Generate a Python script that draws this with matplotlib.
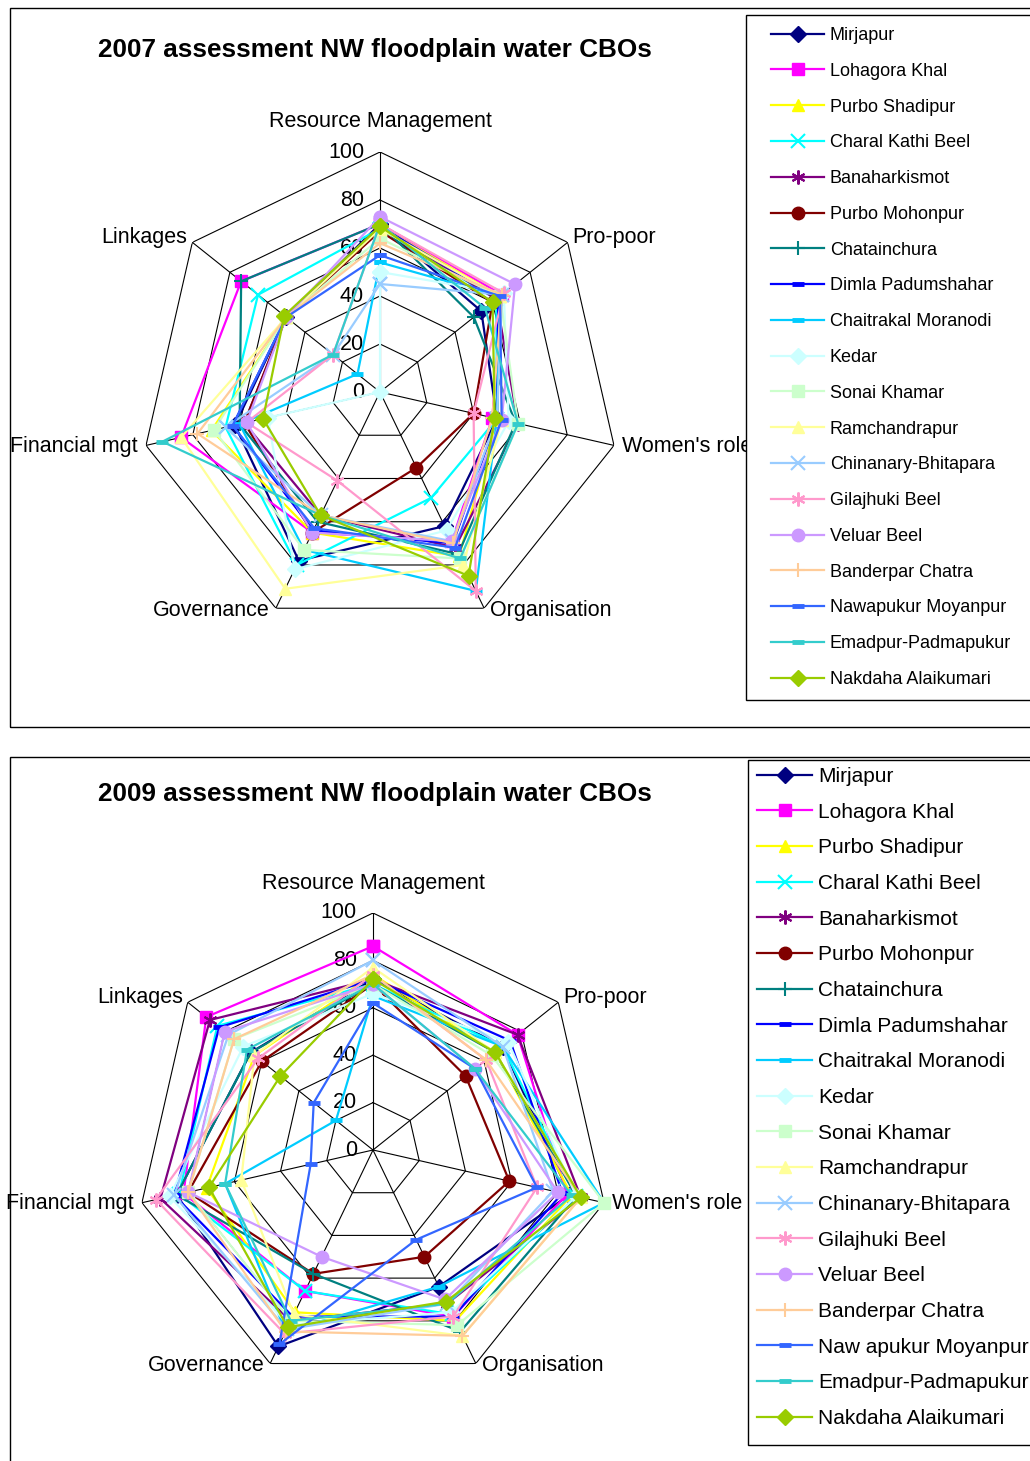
import numpy as np
import matplotlib.pyplot as plt
import matplotlib.transforms as mtransforms
from matplotlib.patches import Rectangle

plt.rcParams['font.family'] = ['Liberation Sans', 'DejaVu Sans']

criteria = ['Resource Management', 'Pro-poor', "Women's role", 'Organisation',
            'Governance', 'Financial mgt', 'Linkages']
sites = ['Mirjapur', 'Lohagora Khal', 'Purbo Shadipur', 'Charal Kathi Beel',
         'Banaharkismot', 'Purbo Mohonpur', 'Chatainchura', 'Dimla Padumshahar',
         'Chaitrakal Moranodi', 'Kedar', 'Sonai Khamar', 'Ramchandrapur',
         'Chinanary-Bhitapara', 'Gilajhuki Beel', 'Veluar Beel', 'Banderpar Chatra',
         'Nawapukur Moyanpur', 'Emadpur-Padmapukur', 'Nakdaha Alaikumari']
sites_2009 = sites[:16] + ['Naw apukur Moyanpur'] + sites[17:]
ring_ticks = [0, 20, 40, 60, 80, 100]

# one row per site, columns in criteria order
scores_2007 = [
    [70, 54, 50, 62, 78, 62, 50],
    [70, 65, 48, 69, 65, 85, 74],
    [69, 64, 50, 76, 65, 72, 50],
    [68, 62, 50, 49, 80, 66, 65],
    [69, 62, 59, 72, 57, 58, 50],
    [67, 60, 40, 35, 65, 58, 50],
    [70, 50, 58, 75, 60, 60, 74],
    [69, 63, 50, 70, 64, 63, 50],
    [54, 64, 50, 92, 73, 60, 12],
    [50, 66, 55, 64, 82, 48, 0],
    [64, 64, 59, 77, 73, 71, 50],
    [68, 64, 52, 80, 91, 85, 50],
    [45, 65, 50, 69, 57, 66, 25],
    [70, 66, 40, 92, 41, 57, 25],
    [73, 72, 52, 69, 65, 57, 50],
    [62, 65, 48, 70, 57, 78, 50],
    [57, 64, 52, 72, 63, 63, 50],
    [70, 56, 59, 77, 57, 93, 25],
    [69, 60, 49, 85, 57, 50, 51],
]
scores_2009 = [
    [72, 70, 85, 64, 92, 85, 66],
    [86, 78, 84, 78, 66, 82, 90],
    [74, 66, 86, 80, 76, 72, 64],
    [70, 70, 88, 77, 66, 84, 84],
    [72, 78, 90, 72, 80, 92, 88],
    [70, 50, 59, 50, 58, 80, 60],
    [70, 66, 88, 85, 58, 85, 66],
    [72, 74, 82, 78, 78, 86, 83],
    [65, 70, 100, 64, 85, 64, 20],
    [66, 73, 88, 76, 82, 88, 70],
    [70, 64, 100, 82, 80, 80, 75],
    [77, 66, 90, 87, 77, 57, 64],
    [80, 70, 78, 72, 84, 86, 78],
    [74, 61, 71, 78, 86, 94, 62],
    [70, 55, 80, 70, 50, 80, 80],
    [74, 61, 90, 87, 85, 80, 75],
    [62, 55, 71, 42, 91, 27, 32],
    [70, 55, 86, 72, 80, 64, 68],
    [72, 66, 90, 71, 83, 71, 50],
]

colors = ['#000080', '#FF00FF', '#FFFF00', '#00FFFF', '#800080', '#800000',
          '#008080', '#0000FF', '#00CCFF', '#CCFFFF', '#CCFFCC', '#FFFF99',
          '#99CCFF', '#FF99CC', '#CC99FF', '#FFCC99', '#3366FF', '#33CCCC',
          '#99CC00']
star = (6, 2, 0)
markers = ['D', 's', '^', 'x', star, 'o', '+', '_', '_', 'D', 's', '^',
           'x', star, 'o', '+', '_', '_', 'D']

W, H = 1030, 1461
fig = plt.figure(figsize=(W / 100, H / 100), dpi=100)


def fx(x):
    return x / W


def fy(y):
    return 1 - y / H


def marker_kw(m):
    if m == '_':
        return dict(markersize=8, markeredgewidth=3.5)
    if m in ('x', '+') or m == star:
        return dict(markersize=10, markeredgewidth=1.5)
    if m == 'D':
        return dict(markersize=8)
    return dict(markersize=9)


# label alignment and pixel nudge away from each outer vertex
label_place = [('center', 0, 30), ('left', 5, 5), ('left', 8, -1), ('left', 6, -2),
               ('right', -6, -2), ('right', -8, -1), ('right', -5, 5)]


def radar(cx, cy, radius, scores, names):
    ax = fig.add_axes([fx(cx - radius), fy(cy + radius), 2 * radius / W, 2 * radius / H],
                      projection='polar')
    ax.set_theta_offset(np.pi / 2)
    ax.set_theta_direction(-1)
    ax.set_ylim(0, 100)
    ax.set_xticks([])
    ax.set_yticks([])
    ax.grid(False)
    ax.spines['polar'].set_visible(False)
    ax.patch.set_alpha(0)

    theta = np.linspace(0, 2 * np.pi, len(criteria), endpoint=False)
    closed = np.append(theta, theta[0])
    for v in ring_ticks[1:]:
        ax.plot(closed, [v] * len(closed), color='black', lw=0.8, zorder=1)
    for t in theta:
        ax.plot([t, t], [0, 100], color='black', lw=0.8, zorder=1)

    shift = mtransforms.offset_copy(ax.transData, fig=fig, x=-16, y=0, units='dots')
    for v in ring_ticks:
        ax.text(0, v, str(v), transform=shift, ha='right', va='center',
                fontsize=15.5, zorder=2)

    for t, name, (ha, dx, dy) in zip(theta, criteria, label_place):
        tr = mtransforms.offset_copy(ax.transData, fig=fig, x=dx, y=dy, units='dots')
        ax.text(t, 100, name, transform=tr, ha=ha, va='center', fontsize=15.5)

    for row, name, c, m in zip(scores, names, colors, markers):
        vals = np.append(row, row[0])
        ax.plot(closed, vals, color=c, lw=1.6, marker=m, markerfacecolor=c,
                markeredgecolor=c, label=name, clip_on=False, zorder=3, **marker_kw(m))
    return ax


# 2007 panel
fig.add_artist(Rectangle((fx(10), fy(727)), fx(1040) - fx(10), fy(8) - fy(727),
                         transform=fig.transFigure, fill=False, edgecolor='black', lw=1))
fig.text(fx(375), fy(50), '2007 assessment NW floodplain water CBOs', ha='center',
         va='center', fontsize=18.8, fontweight='bold')
ax1 = radar(380, 392, 240, scores_2007, sites)

# 2009 panel
fig.add_artist(Rectangle((fx(10), fy(1475)), fx(1040) - fx(10), fy(757) - fy(1475),
                         transform=fig.transFigure, fill=False, edgecolor='black', lw=1))
fig.text(fx(375), fy(794), '2009 assessment NW floodplain water CBOs', ha='center',
         va='center', fontsize=18.8, fontweight='bold')
ax2 = radar(373, 1150, 237, scores_2009, sites_2009)

# legend boxes
fig.add_artist(Rectangle((fx(746), fy(700)), fx(1040) - fx(746), fy(15) - fy(700),
                         transform=fig.transFigure, facecolor='white', edgecolor='black',
                         lw=1, zorder=4))
fig.add_artist(Rectangle((fx(748), fy(1445)), fx(1040) - fx(748), fy(760) - fy(1445),
                         transform=fig.transFigure, facecolor='white', edgecolor='black',
                         lw=1, zorder=4))

h1, l1 = ax1.get_legend_handles_labels()
fig.legend(h1, l1, loc='upper left', bbox_to_anchor=(fx(771), fy(27)), frameon=False,
           borderpad=0, borderaxespad=0, fontsize=13, handlelength=2.95,
           handletextpad=0.3, labelspacing=1.04, numpoints=1).set_zorder(5)
h2, l2 = ax2.get_legend_handles_labels()
fig.legend(h2, l2, loc='upper left', bbox_to_anchor=(fx(757), fy(767)), frameon=False,
           borderpad=0, borderaxespad=0, fontsize=15, handlelength=2.65,
           handletextpad=0.3, labelspacing=0.8, numpoints=1).set_zorder(5)

fig.savefig('out.png', dpi=100)
